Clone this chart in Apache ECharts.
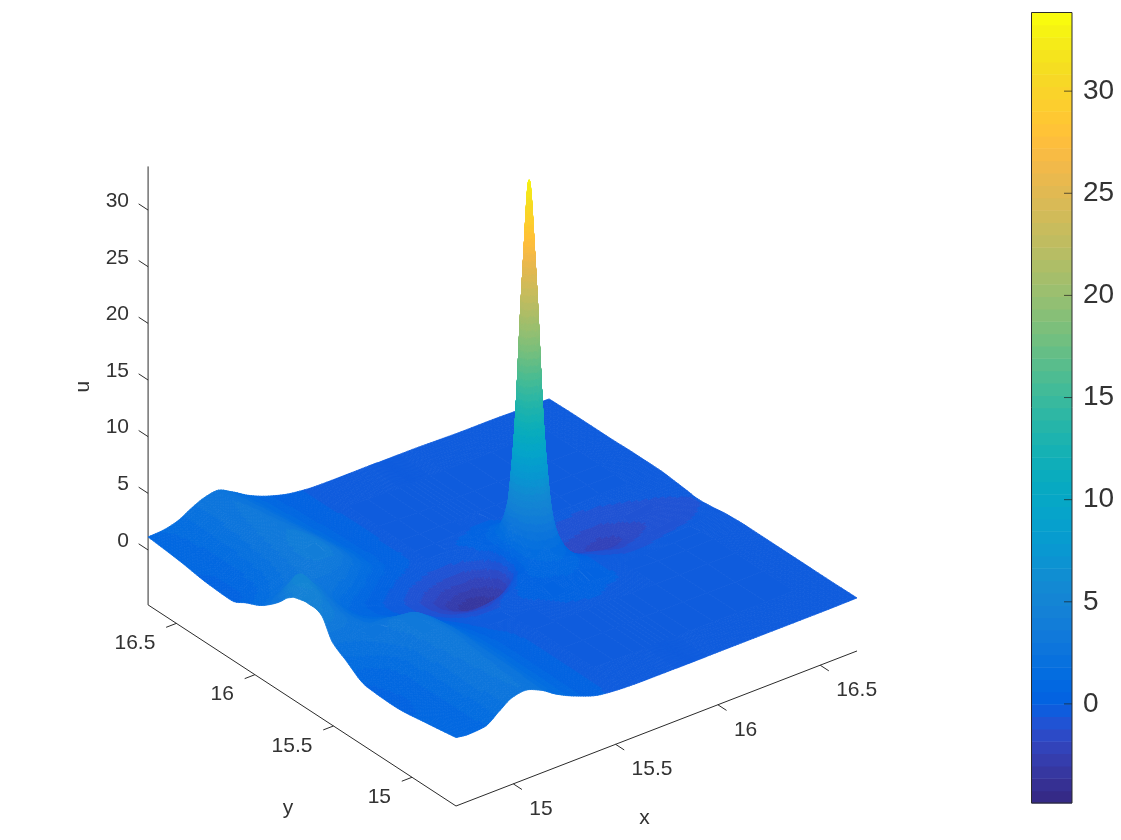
<!DOCTYPE html>
<html>
<head>
<meta charset="utf-8">
<style>html,body{margin:0;padding:0;background:#fff}#chart{width:1121px;height:840px}</style>
<script src="https://cdn.jsdelivr.net/npm/echarts@6/dist/echarts.min.js"></script>
</head>
<body>
<div id="chart"></div>
<script>
// Sample positions of the surface; spacing tightens around the central spike.
const xGrid = [14.72,14.78,14.857,14.936,14.994,15.053,15.132,15.21,15.308,15.426,15.543,15.641,15.739,15.798,15.827,15.853,15.872,15.892,15.918,15.947,16.014,16.131,16.249,16.386,16.523,16.68];
const yGrid = [14.72,14.916,15.112,15.288,15.426,15.504,15.582,15.622,15.68,15.71,15.735,15.755,15.774,15.8,15.829,15.896,15.974,16.053,16.151,16.288,16.484,16.68];

// u(x, y): one row per yGrid entry, one column per xGrid entry.
const uGrid = [
[1.19,1.05,1.15,2.1,2.8,3.0,2.5,1.6,.75,.05,-.15,-.2,-.2,-.2,-.2,-.2,-.2,-.2,-.2,-.2,-.2,-.2,-.2,-.2,-.2,-.17],
[.75,.85,1.2,2.2,2.9,3.1,2.6,1.7,.8,.1,-.15,-.2,-.22,-.22,-.22,-.22,-.22,-.22,-.22,-.22,-.22,-.22,-.22,-.22,-.22,-.2],
[.4,.6,1.15,2.3,3.0,3.25,2.7,1.75,.8,.1,-.15,-.2,-.2,-.2,-.2,-.2,-.2,-.2,-.2,-.2,-.25,-.25,-.25,-.25,-.25,-.2],
[.53,.8,1.4,2.5,3.2,3.45,2.8,1.7,.7,.05,-.15,-.15,-.1,-.1,-.1,-.1,-.1,-.1,-.1,-.15,-.2,-.25,-.25,-.25,-.25,-.2],
[1.7,2.1,2.5,3.0,3.4,3.4,2.6,1.4,.4,-.2,-.3,-.2,.05,.15,.2,.25,.25,.25,.2,.15,.05,-.2,-.3,-.3,-.25,-.2],
[2.45,2.7,2.6,2.6,2.7,2.5,1.8,1.0,.1,-.45,-.5,0,.35,.5,.6,.65,.7,.65,.55,.4,.1,-.3,-.45,-.35,-.3,-.25],
[4.3,3.7,2.9,2.2,1.9,1.6,1.1,.5,-.3,-.8,-.9,-.3,.6,1.0,1.2,1.4,1.5,1.4,1.2,.9,.2,-.5,-.7,-.6,-.5,-.35],
[4.5,4.0,3.0,2.1,1.6,1.3,.8,.2,-.5,-1.1,-1.4,-.9,.4,1.3,1.8,2.1,2.2,2.1,1.8,1.1,.1,-.7,-1.0,-.8,-.65,-.45],
[4.5,4.4,3.2,2.0,1.3,.9,.4,-.1,-.7,-1.5,-2.0,-1.9,-.6,2.2,4.6,6.8,7.3,6.8,4.6,2.2,-.3,-1.0,-1.4,-1.1,-.85,-.55],
[4.4,4.7,3.4,2.1,1.2,.8,.3,-.2,-.8,-1.6,-2.4,-2.9,-1.6,2.9,9.0,14.2,15.8,14.2,9.0,2.9,-.6,-1.3,-1.7,-1.25,-.95,-.6],
[4.3,4.9,3.6,2.1,1.2,.8,.3,-.2,-.8,-1.7,-2.7,-3.3,-2.2,3.8,13,24,27.7,24,13,3.8,-.9,-1.5,-2.0,-1.35,-.95,-.6],
[4.2,5.0,3.7,2.2,1.2,.8,.3,-.2,-.8,-1.75,-2.9,-3.6,-2.6,3.6,14.5,27.5,33,27.5,14.5,3.6,-1.1,-1.7,-2.3,-1.4,-.95,-.6],
[4.0,5.3,3.9,2.3,1.4,.9,.3,-.2,-.8,-1.75,-2.95,-3.7,-2.6,3.4,12.8,24,27.7,24,12.8,3.4,-1.1,-1.65,-2.2,-1.35,-.9,-.55],
[3.7,5.4,4.0,2.5,1.6,1.0,.4,-.1,-.7,-1.7,-2.9,-3.6,-2.2,2.6,8.6,14,15.7,14,8.6,2.6,-1.0,-1.5,-1.9,-1.2,-.8,-.5],
[3.2,4.8,3.9,2.8,2.2,1.6,.8,.1,-.5,-1.4,-2.4,-3.0,-1.3,1.7,4.2,6.7,7.2,6.7,4.2,1.6,-.8,-1.2,-1.5,-1.0,-.7,-.45],
[2.3,3.2,3.3,3.0,3.0,2.8,1.9,.9,.1,-.5,-.9,-.8,.1,.9,1.4,1.8,1.9,1.7,1.2,.6,-.3,-.75,-.85,-.65,-.45,-.35],
[1.5,1.9,2.6,3.2,3.7,3.8,3.0,1.9,.8,.1,-.2,-.1,.1,.3,.45,.6,.6,.5,.35,.15,-.15,-.35,-.4,-.35,-.3,-.25],
[1.0,1.3,2.1,3.1,3.8,4.0,3.2,2.1,.9,.2,-.15,-.15,-.1,-.05,0,0,0,0,-.05,-.1,-.2,-.25,-.25,-.25,-.25,-.25],
[.35,.7,1.7,2.9,3.6,3.85,3.1,2.0,.9,.15,-.15,-.2,-.2,-.25,-.25,-.25,-.25,-.25,-.25,-.25,-.25,-.25,-.25,-.25,-.25,-.25],
[.45,.65,1.5,2.6,3.2,3.4,2.8,1.8,.85,.15,-.1,-.2,-.25,-.25,-.25,-.25,-.25,-.25,-.25,-.25,-.25,-.25,-.25,-.25,-.25,-.3],
[.85,.9,1.45,2.35,2.9,3.1,2.5,1.6,.75,.1,-.1,-.15,-.25,-.25,-.25,-.25,-.25,-.25,-.25,-.25,-.25,-.25,-.25,-.25,-.3,-.3],
[1.15,1.2,1.5,2.25,2.7,2.9,2.25,1.4,.65,.1,-.1,-.12,-.12,-.12,-.12,-.15,-.15,-.15,-.15,-.15,-.15,-.2,-.25,-.25,-.3,-.35]
];

// Axis ticks and box limits.
const xTicks = [15, 15.5, 16, 16.5];
const yTicks = [15, 15.5, 16, 16.5];
const uTicks = [0, 5, 10, 15, 20, 25, 30];
const colorTicks = [0, 5, 10, 15, 20, 25, 30];
const boxMin = 14.72, boxMax = 16.68;
const uMin = -4.85, uMax = 33.85;

// 64-entry colormap used for both the surface and the colour bar.
const paletteRgb = [
[53,42,135],[54,48,147],[54,55,160],[53,61,173],[50,67,186],[44,74,199],[32,83,212],[15,92,221],
[3,99,225],[2,104,225],[4,109,224],[8,113,222],[13,117,220],[16,121,218],[18,125,216],[20,129,214],
[20,133,212],[19,137,211],[16,142,210],[12,147,210],[9,152,209],[7,156,207],[6,160,205],[6,164,202],
[6,167,198],[7,169,194],[10,172,190],[15,174,185],[21,177,180],[29,179,175],[37,181,169],[46,183,164],
[56,185,158],[66,187,152],[77,188,146],[89,189,140],[101,190,134],[113,191,128],[124,191,123],[135,191,119],
[146,191,115],[156,191,111],[165,190,107],[174,190,103],[183,189,100],[192,188,96],[200,188,93],[209,187,89],
[217,186,86],[225,185,82],[233,185,78],[241,185,74],[248,187,68],[253,190,61],[255,195,55],[254,200,50],
[252,206,46],[250,211,42],[247,216,38],[245,222,33],[245,228,29],[245,235,24],[246,243,19],[249,251,14]
].map(c => 'rgb(' + c.join(',') + ')');

// Oblique view of the plot box: data coordinates to the plane of the hidden axes.
const view = { ox: 456, oy: 806, xdx: 204.6, xdy: -79.1, ydx: -157.1, ydy: -102.6, udy: -11.33 };
function project(x, y, u) {
  const dx = x - boxMin, dy = y - boxMin, du = u - uMin;
  return [view.ox + view.xdx * dx + view.ydx * dy,
          view.oy + view.xdy * dx + view.ydy * dy + view.udy * du];
}
function colorOf(u) {
  const k = Math.floor((u - uMin) / (uMax - uMin) * paletteRgb.length);
  return Math.max(0, Math.min(paletteRgb.length - 1, k));
}

// Shape-preserving cubic shading between samples, so peaks do not overshoot.
function slopeAt(xs, vs, k) {
  if (k === 0) return (vs[1] - vs[0]) / (xs[1] - xs[0]);
  const last = xs.length - 1;
  if (k === last) return (vs[last] - vs[last - 1]) / (xs[last] - xs[last - 1]);
  const h0 = xs[k] - xs[k - 1], h1 = xs[k + 1] - xs[k];
  const d0 = (vs[k] - vs[k - 1]) / h0, d1 = (vs[k + 1] - vs[k]) / h1;
  if (d0 * d1 <= 0) return 0;
  const w0 = 2 * h1 + h0, w1 = h1 + 2 * h0;
  return (w0 + w1) / (w0 / d0 + w1 / d1);
}
function hermite(v0, v1, m0, m1, h, s) {
  const s2 = s * s, s3 = s2 * s;
  return (2 * s3 - 3 * s2 + 1) * v0 + (s3 - 2 * s2 + s) * h * m0 + (3 * s2 - 2 * s3) * v1 + (s3 - s2) * h * m1;
}
const rowSlopes = uGrid.map(row => row.map((_, k) => slopeAt(xGrid, row, k)));
function shade(i, j, s, t) {
  const h = xGrid[i + 1] - xGrid[i];
  const col = uGrid.map((row, r) => hermite(row[i], row[i + 1], rowSlopes[r][i], rowSlopes[r][i + 1], h, s));
  return hermite(col[j], col[j + 1], slopeAt(yGrid, col, j), slopeAt(yGrid, col, j + 1), yGrid[j + 1] - yGrid[j], t);
}

// Split every grid cell into small facets, far to near.
const facets = [];
const step = 2.6;
for (let j = yGrid.length - 2; j >= 0; j--) {
  for (let i = xGrid.length - 2; i >= 0; i--) {
    const x0 = xGrid[i], x1 = xGrid[i + 1], y0 = yGrid[j], y1 = yGrid[j + 1];
    const a = uGrid[j][i], b = uGrid[j][i + 1], c = uGrid[j + 1][i + 1], d = uGrid[j + 1][i];
    const pa = project(x0, y0, a), pb = project(x1, y0, b), pc = project(x1, y1, c), pd = project(x0, y1, d);
    const same = colorOf(a) === colorOf(b) && colorOf(b) === colorOf(c) && colorOf(c) === colorOf(d);
    const len = (p, q) => Math.max(Math.abs(p[0] - q[0]), Math.abs(p[1] - q[1]));
    const nx = same ? 1 : Math.max(1, Math.ceil(Math.max(len(pa, pb), len(pd, pc)) / step));
    const ny = same ? 1 : Math.max(1, Math.ceil(Math.max(len(pa, pd), len(pb, pc)) / step));
    // Border cells keep a finer outline so the silhouette follows the curve.
    const border = i === 0 || j === 0 || i === xGrid.length - 2 || j === yGrid.length - 2;
    const fx = same && border ? 8 : nx, fy = same && border ? 8 : ny;
    const corners = [];
    for (let q = 0; q <= fy; q++) {
      const line = [];
      for (let p = 0; p <= fx; p++) {
        const s = p / fx, t = q / fy, u = shade(i, j, s, t);
        line.push(project(x0 + (x1 - x0) * s, y0 + (y1 - y0) * t, u).concat(u));
      }
      corners.push(line);
    }
    for (let q = fy - 1; q >= 0; q--) {
      for (let p = fx - 1; p >= 0; p--) {
        const c1 = corners[q][p], c2 = corners[q][p + 1], c3 = corners[q + 1][p + 1], c4 = corners[q + 1][p];
        facets.push({ pts: [c1, c2, c3, c4], k: colorOf((c1[2] + c2[2] + c3[2] + c4[2]) / 4) });
      }
    }
  }
}

// Box edges, ticks and their labels.
const ink = '#2b2b2b';
const font = 'Liberation Sans, Helvetica, Arial, sans-serif';
const seg = [];
seg.push([project(boxMin, boxMin, uMin), project(boxMax, boxMin, uMin)]);
seg.push([project(boxMin, boxMin, uMin), project(boxMin, boxMax, uMin)]);
seg.push([project(boxMin, boxMax, uMin), project(boxMin, boxMax, uMax)]);
const texts = [];
const tickY = 0.055, tickX = 0.05, tickU = 0.06;
xTicks.forEach(t => {
  const p = project(t, boxMin, uMin);
  seg.push([p, project(t, boxMin - tickY, uMin)]);
  texts.push({ s: String(t), x: p[0] + 16, y: p[1] + 25, align: 'left' });
});
yTicks.forEach(t => {
  const p = project(boxMin, t, uMin);
  seg.push([p, project(boxMin - tickX, t, uMin)]);
  texts.push({ s: String(t), x: p[0] - 21, y: p[1] + 20, align: 'right' });
});
uTicks.forEach(t => {
  const p = project(boxMin, boxMax, t);
  seg.push([p, project(boxMin, boxMax + tickU, t)]);
  texts.push({ s: String(t), x: 129, y: p[1] - 9, align: 'right' });
});
const xMid = project((boxMin + boxMax) / 2, boxMin, uMin);
const yMid = project(boxMin, (boxMin + boxMax) / 2, uMin);
const uMid = project(boxMin, boxMax, (uMin + uMax) / 2);
texts.push({ s: 'x', x: xMid[0] - 12, y: xMid[1] + 90, align: 'center' });
texts.push({ s: 'y', x: yMid[0] - 14, y: yMid[1] + 103, align: 'center' });
texts.push({ s: 'u', x: uMid[0] - 65, y: uMid[1] + 1, align: 'center', rot: Math.PI / 2 });

const chart = echarts.init(document.getElementById('chart'), null, { renderer: 'canvas' });
chart.setOption({
  animation: false,
  backgroundColor: '#ffffff',
  grid: [
    { left: 0, top: 0, width: 1121, height: 840, show: false },
    { left: 1031.5, top: 12.5, width: 40.5, height: 790.5, show: false }
  ],
  xAxis: [
    { gridIndex: 0, type: 'value', min: 0, max: 1121, show: false },
    { gridIndex: 1, type: 'value', min: 0, max: 1, show: false }
  ],
  yAxis: [
    { gridIndex: 0, type: 'value', min: 0, max: 840, inverse: true, show: false },
    {
      gridIndex: 1, type: 'value', min: uMin, max: uMax, position: 'right',
      splitLine: { show: false },
      axisLine: { show: false },
      axisTick: { show: false },
      axisLabel: { show: true, margin: 11, fontSize: 28, fontFamily: font, color: '#333333', customValues: colorTicks, padding: [5, 0, 0, 0] }
    }
  ],
  series: [
    {
      // Box edges and tick marks.
      type: 'custom', xAxisIndex: 0, yAxisIndex: 0, silent: true, z: 1,
      coordinateSystem: 'cartesian2d', progressive: 0,
      data: seg.map((_, k) => k),
      renderItem: (params, api) => {
        const s = seg[params.dataIndex];
        const a = api.coord(s[0]), b = api.coord(s[1]);
        return { type: 'line', shape: { x1: a[0], y1: a[1], x2: b[0], y2: b[1] },
                 style: { stroke: ink, lineWidth: 1 } };
      }
    },
    {
      // Surface facets, painted back to front.
      type: 'custom', xAxisIndex: 0, yAxisIndex: 0, silent: true, z: 2,
      coordinateSystem: 'cartesian2d', progressive: 0,
      data: facets.map((_, k) => k),
      renderItem: (params, api) => {
        const f = facets[params.dataIndex];
        const col = paletteRgb[f.k];
        return { type: 'polygon', shape: { points: f.pts.map(p => api.coord([p[0], p[1]])) },
                 style: { fill: col, stroke: col, lineWidth: 0.8 } };
      }
    },
    {
      // Tick labels and axis names.
      type: 'custom', xAxisIndex: 0, yAxisIndex: 0, silent: true, z: 3,
      coordinateSystem: 'cartesian2d', progressive: 0,
      data: texts.map((_, k) => k),
      renderItem: (params, api) => {
        const t = texts[params.dataIndex];
        const p = api.coord([t.x, t.y]);
        return { type: 'text', x: p[0], y: p[1], rotation: t.rot || 0,
                 style: { text: t.s, align: t.align, verticalAlign: 'middle', fontSize: 21, fontFamily: font, fill: '#333333' } };
      }
    },
    {
      // Colour bar bands.
      type: 'custom', xAxisIndex: 1, yAxisIndex: 1, silent: true, z: 2,
      coordinateSystem: 'cartesian2d', progressive: 0,
      data: paletteRgb.map((_, k) => k),
      renderItem: (params, api) => {
        const k = params.dataIndex, n = paletteRgb.length, band = (uMax - uMin) / n;
        const a = api.coord([0, uMin + k * band]), b = api.coord([1, uMin + (k + 1) * band]);
        return { type: 'rect', shape: { x: a[0], y: b[1], width: b[0] - a[0], height: a[1] - b[1] + 0.5 },
                 style: { fill: paletteRgb[k] } };
      }
    },
    {
      // Colour bar frame.
      type: 'custom', xAxisIndex: 1, yAxisIndex: 1, silent: true, z: 3,
      coordinateSystem: 'cartesian2d', progressive: 0,
      data: [0],
      renderItem: (params, api) => {
        const a = api.coord([0, uMin]), b = api.coord([1, uMax]);
        return { type: 'rect', shape: { x: a[0], y: b[1], width: b[0] - a[0], height: a[1] - b[1] },
                 style: { fill: 'none', stroke: ink, lineWidth: 1 } };
      }
    },
    {
      // Colour bar ticks, inside the frame on its right side.
      type: 'custom', xAxisIndex: 1, yAxisIndex: 1, silent: true, z: 4,
      coordinateSystem: 'cartesian2d', progressive: 0,
      data: colorTicks.map((_, k) => k),
      renderItem: (params, api) => {
        const p = api.coord([1, colorTicks[params.dataIndex]]);
        return { type: 'line', shape: { x1: p[0] - 8, y1: p[1], x2: p[0], y2: p[1] },
                 style: { stroke: 'rgba(30,30,30,0.7)', lineWidth: 1 } };
      }
    }
  ]
});
</script>
</body>
</html>
